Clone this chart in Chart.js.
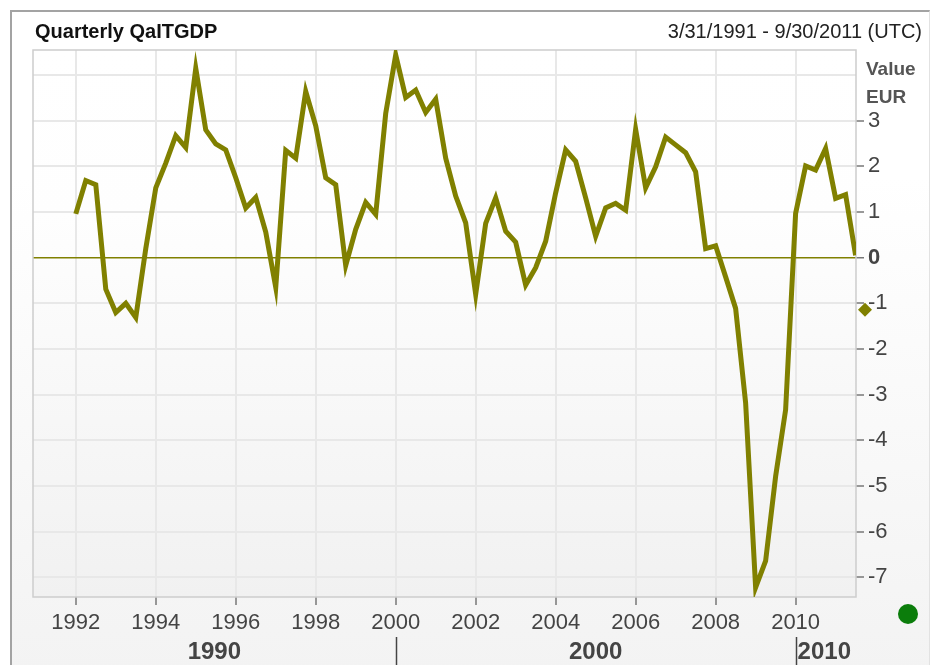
<!DOCTYPE html>
<html>
<head>
<meta charset="utf-8">
<script src="https://cdn.jsdelivr.net/npm/chart.js@4.4.1/dist/chart.umd.min.js"></script>
<style>
  html, body { margin:0; padding:0; background:#ffffff; }
  body { width:940px; height:665px; position:relative; overflow:hidden; }
  #panel { position:absolute; left:10px; top:10px; width:917px; height:660px;
           border-top:2px solid #a3a3a3; border-left:2px solid #a3a3a3; border-right:1px solid #e2e2e2;
           background:linear-gradient(#ffffff 0%, #ffffff 25%, #f3f3f3 100%); }
  #c { position:absolute; left:0; top:0; }
</style>
</head>
<body>
<div id="panel"></div>
<canvas id="c" width="940" height="665"></canvas>
<script>
// ---- data ----
const chartTitle = 'Quarterly QaITGDP';
const dateRange = '3/31/1991 - 9/30/2011 (UTC)';
const axisHeader = ['Value', 'EUR'];
const firstYear = 1992;            // first quarter plotted at the 1992 grid line
const quarterStep = 0.25;
const qaitgdp = [
   0.96,  1.69,  1.60, -0.69,   // 1992
  -1.20, -1.00, -1.31,  0.20,   // 1993
   1.53,  2.07,  2.67,  2.41,   // 1994
   4.15,  2.80,  2.49,  2.36,   // 1995
   1.75,  1.09,  1.32,  0.56,   // 1996
  -0.65,  2.35,  2.18,  3.64,   // 1997
   2.89,  1.75,  1.60, -0.17,   // 1998
   0.62,  1.21,  0.95,  3.16,   // 1999
   4.44,  3.51,  3.67,  3.18,   // 2000
   3.47,  2.18,  1.35,  0.76,   // 2001
  -0.80,  0.75,  1.31,  0.58,   // 2002
   0.34, -0.60, -0.22,  0.36,   // 2003
   1.42,  2.36,  2.11,  1.31,   // 2004
   0.47,  1.09,  1.19,  1.04,   // 2005
   2.81,  1.53,  1.99,  2.64,   // 2006
   2.47,  2.30,  1.88,  0.20,   // 2007
   0.26, -0.42, -1.11, -3.18,   // 2008
  -7.22, -6.64, -4.79, -3.33,   // 2009
   0.97,  2.01,  1.92,  2.39,   // 2010
   1.30,  1.38,  0.05           // 2011
];
const markerValue = -1.14;          // diamond marker on the value axis
const decades = [1990, 2000, 2010];
const xRange = [1990.93, 2011.51];
const yRange = [-7.43, 4.548];
const maxLabelledValue = 3;

const points = qaitgdp.map((v, i) => ({ x: firstYear + i * quarterStep, y: v }));

const OLIVE = '#808000';
const FONT = "'Liberation Sans', Arial, sans-serif";

const decor = {
  id: 'decor',
  beforeDraw(chart) {
    const { ctx, chartArea: a } = chart;
    const g = ctx.createLinearGradient(0, a.top, 0, a.bottom);
    g.addColorStop(0, '#ffffff');
    g.addColorStop(0.3, '#fefefe');
    g.addColorStop(1, '#f1f1f1');
    ctx.save();
    ctx.fillStyle = g;
    ctx.fillRect(a.left, a.top, a.right - a.left, a.bottom - a.top);
    ctx.restore();
  },
  beforeDatasetsDraw(chart) {
    const { ctx, chartArea: a } = chart;
    ctx.save();
    ctx.strokeStyle = '#cdcdcd';
    ctx.lineWidth = 1.5;
    ctx.strokeRect(a.left, a.top, a.right - a.left, a.bottom - a.top);
    ctx.restore();
  },
  afterDraw(chart) {
    const { ctx, chartArea: a, scales } = chart;
    const xs = scales.x, ys = scales.y;
    ctx.save();
    // title + date range
    ctx.textBaseline = 'alphabetic';
    ctx.fillStyle = '#111';
    ctx.font = 'bold 20px ' + FONT;
    ctx.textAlign = 'left';
    ctx.fillText(chartTitle, 35, 38);
    ctx.font = '20px ' + FONT;
    ctx.fillStyle = '#222';
    ctx.textAlign = 'right';
    ctx.fillText(dateRange, 922, 38);
    // axis header
    ctx.textAlign = 'left';
    ctx.fillStyle = '#555';
    ctx.font = 'bold 19px ' + FONT;
    ctx.fillText(axisHeader[0], a.right + 10, 75);
    ctx.fillText(axisHeader[1], a.right + 10, 103);
    // diamond marker
    const my = ys.getPixelForValue(markerValue);
    const mx = a.right + 9;
    ctx.fillStyle = OLIVE;
    ctx.beginPath();
    ctx.moveTo(mx, my - 7); ctx.lineTo(mx + 7, my); ctx.lineTo(mx, my + 7); ctx.lineTo(mx - 7, my);
    ctx.closePath(); ctx.fill();
    // status dot
    ctx.fillStyle = '#0b7d0b';
    ctx.beginPath();
    ctx.arc(a.right + 52, a.bottom + 17, 10, 0, Math.PI * 2);
    ctx.fill();
    // decade row
    ctx.font = 'bold 24px ' + FONT;
    ctx.fillStyle = '#444';
    ctx.strokeStyle = '#444';
    ctx.lineWidth = 1.5;
    decades.forEach(d => {
      const s = Math.max(d, xRange[0]), e = Math.min(d + 10, xRange[1]);
      const px0 = xs.getPixelForValue(s), px1 = xs.getPixelForValue(e);
      const label = String(d);
      const w = ctx.measureText(label).width;
      if (d > xRange[0]) {
        ctx.beginPath();
        ctx.moveTo(Math.round(px0) + 0.5, 637);
        ctx.lineTo(Math.round(px0) + 0.5, 665);
        ctx.stroke();
      }
      if (px1 - px0 > w + 10) {
        ctx.textAlign = 'center';
        ctx.fillText(label, (px0 + px1) / 2, 659);
      } else {
        ctx.textAlign = 'left';
        ctx.fillText(label, px0 + 2, 659);
      }
    });
    ctx.restore();
  }
};

new Chart(document.getElementById('c'), {
  type: 'line',
  data: {
    datasets: [{
      label: chartTitle,
      data: points,
      borderColor: OLIVE,
      backgroundColor: OLIVE,
      borderWidth: 5,
      pointRadius: 0,
      tension: 0,
      fill: false
    }]
  },
  options: {
    responsive: false,
    animation: false,
    devicePixelRatio: 1,
    layout: { padding: { left: 33, top: 50, right: 0, bottom: 0 } },
    plugins: { legend: { display: false }, tooltip: { enabled: false } },
    scales: {
      x: {
        type: 'linear',
        position: 'bottom',
        min: xRange[0], max: xRange[1],
        border: { display: false },
        grid: { color: '#e8e8e8', lineWidth: 2, tickColor: '#777', tickLength: 8, tickWidth: 1.5 },
        ticks: {
          stepSize: 2, includeBounds: false, padding: 5,
          color: '#444', font: { family: FONT, size: 22 },
          callback: v => String(v), maxRotation: 0, autoSkip: false
        },
        afterFit: s => { s.height = 68; }
      },
      y: {
        type: 'linear',
        position: 'right',
        min: yRange[0], max: yRange[1],
        border: { display: false },
        grid: {
          color: c => (c.tick && c.tick.value === 0) ? OLIVE : '#e8e8e8',
          lineWidth: c => (c.tick && c.tick.value === 0) ? 1.5 : 2,
          tickColor: c => (c.tick && c.tick.value > maxLabelledValue) ? 'rgba(0,0,0,0)' : '#777',
          tickLength: 8, tickWidth: 1.5
        },
        ticks: {
          stepSize: 1, includeBounds: false, padding: 4,
          color: '#444',
          font: c => ({ family: FONT, size: 22, weight: (c.tick && c.tick.value === 0) ? 'bold' : 'normal' }),
          callback: v => v > maxLabelledValue ? '' : String(v)
        },
        afterFit: s => { s.width = 84; }
      }
    }
  },
  plugins: [decor]
});
</script>
</body>
</html>
